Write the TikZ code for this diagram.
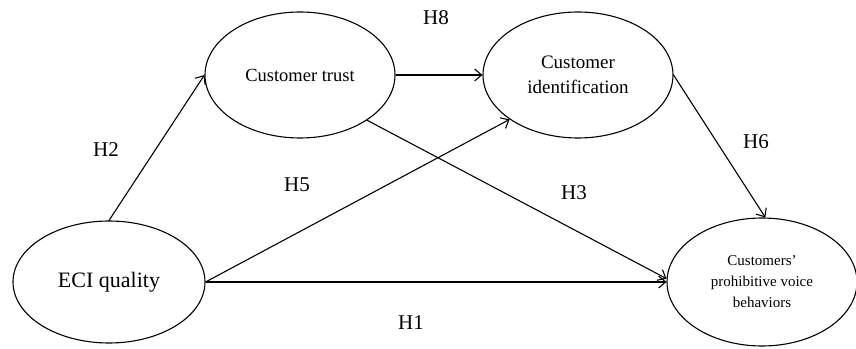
\documentclass[tikz,border=0pt]{standalone}
\usepackage{fontspec}
\setmainfont{Liberation Serif}
\usetikzlibrary{arrows.meta, shapes.geometric}

\begin{document}
\begin{tikzpicture}[x=1pt, y=1pt, line width=1.1pt,
		construct/.style={draw, ellipse, inner sep=0pt},
		hyparrow/.style={-{Straight Barb[length=7pt,width=12pt]}},
		every node/.style={align=center}]
			\useasboundingbox (0,0) rectangle (856,348);

			% Constructs
			\node[construct, minimum width=192, minimum height=122, font=\fontsize{22}{26}\selectfont] (eci) at (109,66) {ECI quality};
			\node[construct, minimum width=190, minimum height=126, font=\fontsize{18.5}{22}\selectfont] (trust) at (300,273) {Customer trust};
			\node[construct, minimum width=190, minimum height=126, font=\fontsize{19}{25}\selectfont] (ident) at (578,273) {Customer\\identification};
			\node[construct, minimum width=190, minimum height=128, font=\fontsize{15}{21}\selectfont] (pvb) at (762,66) {Customers'\\prohibitive voice\\behaviors};

			% Hypothesised paths
			\draw[hyparrow] (eci.north) -- (trust.west);
			\draw[hyparrow] (trust.east) -- (ident.west);
			\draw[hyparrow] (eci.east) -- (ident.213);
			\draw[hyparrow] (trust.-34) -- (pvb.178);
			\draw[hyparrow] (eci.east) -- (pvb.west);
			\draw[hyparrow] (ident.east) -- (pvb.87);

			% Labels
			\begin{scope}[every node/.style={font=\fontsize{21}{24}\selectfont}]
			\node (h8) at (436,330) {H8};
			\node (h2) at (106,198) {H2};
			\node (h5) at (297,163) {H5};
			\node (h3) at (574,155) {H3};
			\node (h6) at (756,206) {H6};
			\node (h1) at (411,25) {H1};
			\end{scope}
		\end{tikzpicture}
\end{document}
